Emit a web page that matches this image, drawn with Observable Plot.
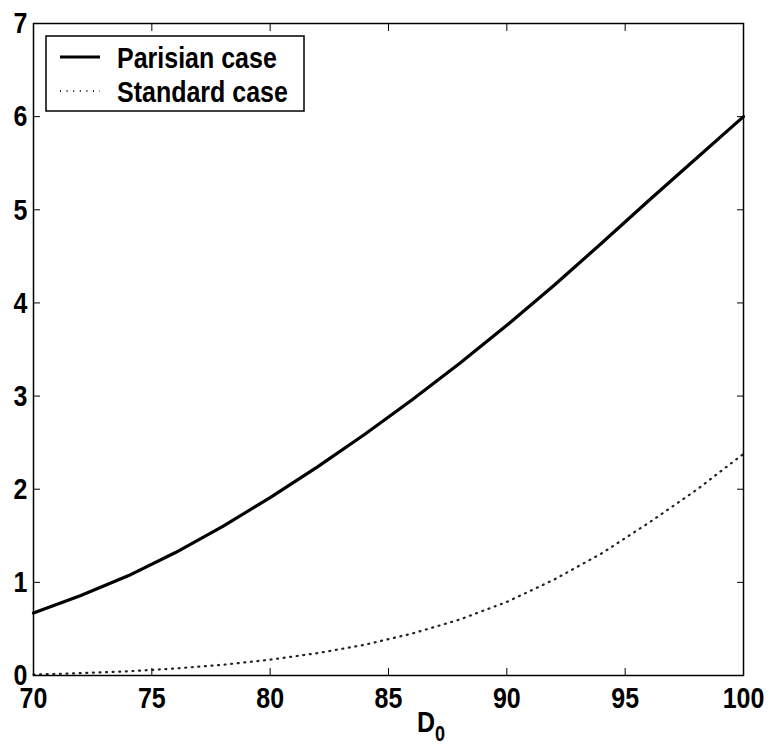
<!DOCTYPE html>
<html><head><meta charset="utf-8">
<script src="https://cdn.jsdelivr.net/npm/d3@7"></script>
<script src="https://cdn.jsdelivr.net/npm/@observablehq/plot@0.6"></script>
<style>
body{margin:0;background:#fff;}
</style></head><body><div id="chart"></div>
<script>
const D0 = [70, 72, 74, 76, 78, 80, 82, 84, 86, 88, 90, 92, 94, 96, 98, 100];
const parisian = [0.67, 0.86, 1.07, 1.32, 1.60, 1.91, 2.24, 2.59, 2.96, 3.35, 3.76, 4.19, 4.64, 5.10, 5.55, 6.0];
const standard = [0.01, 0.025, 0.045, 0.075, 0.115, 0.17, 0.24, 0.33, 0.45, 0.60, 0.79, 1.03, 1.31, 1.64, 1.99, 2.38];
const xTicks = [70, 75, 80, 85, 90, 95, 100];
const yTicks = [0, 1, 2, 3, 4, 5, 6, 7];
const seriesNames = ["Parisian case", "Standard case"];
const xLabelMain = "D";
const xLabelSub = "0";

const rows = D0.map((d, i) => ({d, p: parisian[i], s: standard[i]}));
const font = "'Liberation Sans', Arial, sans-serif";
const fmt = d => String(d);

const svg = Plot.plot({
  width: 770, height: 747,
  marginTop: 23, marginRight: 27, marginBottom: 72, marginLeft: 33,
  style: {fontFamily: font, fontSize: "25px", fontWeight: "bold", background: "#fff", color: "#000", overflow: "visible"},
  x: {domain: [70, 100]},
  y: {domain: [0, 7]},
  marks: [
    Plot.axisX(xTicks, {anchor: "bottom", tickSize: -7, tickPadding: 20, tickFormat: fmt, label: null, fontSize: 25, fontWeight: "bold", strokeWidth: 1}),
    Plot.axisX(xTicks, {anchor: "top", tickSize: -7, tickFormat: () => "", label: null, strokeWidth: 1}),
    Plot.axisY(yTicks, {anchor: "left", tickSize: -7, tickPadding: 13, tickFormat: fmt, label: null, fontSize: 25, fontWeight: "bold", strokeWidth: 1}),
    Plot.axisY(yTicks, {anchor: "right", tickSize: -7, tickFormat: () => "", label: null, strokeWidth: 1}),
    Plot.line(rows, {x: "d", y: "s", stroke: "#222", strokeWidth: 2.2, strokeDasharray: "1 5.6"}),
    Plot.line(rows, {x: "d", y: "p", stroke: "#000", strokeWidth: 3.2}),
    Plot.frame({stroke: "#000", strokeWidth: 1.5})
  ]
});

const s = d3.select(svg);
// x-axis label with subscript
const lab = s.append("text")
  .attr("x", 431).attr("y", 731).attr("text-anchor", "middle")
  .attr("font-family", font).attr("font-weight", "bold").attr("font-size", 25).attr("fill", "#000");
lab.append("tspan").text(xLabelMain);
lab.append("tspan").attr("dy", 7).attr("font-size", 18).text(xLabelSub);

// legend
const lg = s.append("g");
lg.append("rect").attr("x", 46).attr("y", 36).attr("width", 258).attr("height", 75)
  .attr("fill", "#fff").attr("stroke", "#000").attr("stroke-width", 1.5);
lg.append("line").attr("x1", 60).attr("x2", 100).attr("y1", 57).attr("y2", 57)
  .attr("stroke", "#000").attr("stroke-width", 3.2);
lg.append("line").attr("x1", 60).attr("x2", 100).attr("y1", 91).attr("y2", 91)
  .attr("stroke", "#222").attr("stroke-width", 2.2).attr("stroke-dasharray", "1 5.6");
seriesNames.forEach((n, i) => {
  lg.append("text").attr("x", 117).attr("y", 66 + i * 34).attr("text-anchor", "start")
    .attr("font-family", font).attr("font-weight", "bold").attr("font-size", 25).attr("fill", "#000")
    .text(n);
});

document.getElementById("chart").appendChild(svg);

// stretch all glyphs vertically about their own centre (reference uses tall bold type)
s.selectAll("text").each(function () {
  if (!this.textContent) return;
  const bb = this.getBBox();
  const cy = bb.y + bb.height / 2;
  const t = this.getAttribute("transform") || "";
  this.setAttribute("transform", `${t} translate(0,${cy}) scale(1,1.2) translate(0,${-cy})`);
});
</script></body></html>
